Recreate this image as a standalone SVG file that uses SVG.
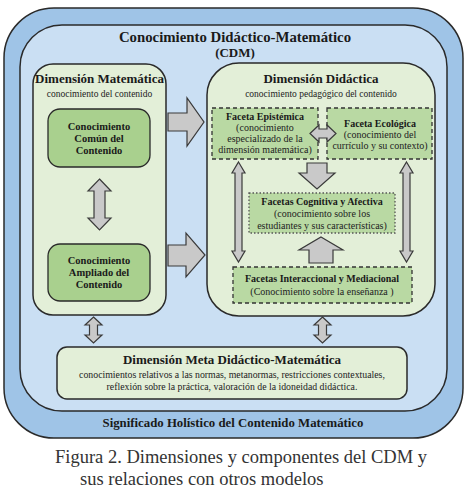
<svg xmlns="http://www.w3.org/2000/svg" width="474" height="503" viewBox="0 0 474 503">
<style>
.b{font-family:"Liberation Serif","DejaVu Serif",serif;font-weight:bold;fill:#1a1a1a;text-anchor:middle}
.r{font-family:"Liberation Serif","DejaVu Serif",serif;fill:#222;text-anchor:middle}
.cap{font-family:"Liberation Serif","DejaVu Serif",serif;fill:#333;font-size:18.5px}
.pale{fill:#e3efd8;stroke:#2a2a2a;stroke-width:1.5}
.mid{fill:#a9d08e;stroke:#2a2a2a;stroke-width:1.3}
.dash{fill:#b9d9a3;stroke:#333;stroke-width:1.3;stroke-dasharray:4 3}
.dot{fill:#b9d9a3;stroke:#555;stroke-width:1.3;stroke-dasharray:1.5 2}
.arr{fill:#c9c9c9;stroke:#3a3a3a;stroke-width:1.2;stroke-linejoin:miter}
</style>
<rect width="474" height="503" fill="#ffffff"/>
<g id="outer">
<rect x="4" y="8" width="459" height="430" rx="50" ry="50" fill="#9fc4e7" stroke="#2a2a2a" stroke-width="1.5"/>
<rect x="20" y="25" width="427" height="386" rx="42" ry="42" fill="#cadff3" stroke="#2a2a2a" stroke-width="1.5"/>
<text class="b" x="235" y="42" font-size="14.8">Conocimiento Didáctico-Matemático</text>
<text class="b" x="235" y="57" font-size="13">(CDM)</text>
<text class="b" x="233" y="427" font-size="12.8">Significado Holístico del Contenido Matemático</text>
</g>
<g id="dim-matematica">
<rect class="pale" x="33" y="64" width="133" height="251" rx="20" ry="20"/>
<text class="b" x="99.5" y="83" font-size="13">Dimensión Matemática</text>
<text class="r" x="99.5" y="97" font-size="9.5">conocimiento del contenido</text>
</g>
<g id="comun">
<rect class="mid" x="48" y="109" width="102" height="58" rx="12" ry="12"/>
<text class="b" x="99" y="130" font-size="10.5">Conocimiento</text>
<text class="b" x="99" y="142" font-size="10.5">Común del</text>
<text class="b" x="99" y="154" font-size="10.5">Contenido</text>
</g>
<g id="ampliado">
<rect class="mid" x="48" y="244" width="102" height="57" rx="12" ry="12"/>
<text class="b" x="99" y="264" font-size="10.5">Conocimiento</text>
<text class="b" x="99" y="276" font-size="10.5">Ampliado del</text>
<text class="b" x="99" y="288" font-size="10.5">Contenido</text>
</g>
<g id="dim-didactica">
<rect class="pale" x="207" y="63" width="228" height="253" rx="32" ry="32"/>
<text class="b" x="321" y="83" font-size="13">Dimensión Didáctica</text>
<text class="r" x="321" y="97" font-size="9.5">conocimiento pedagógico del contenido</text>
</g>
<g id="epistemica">
<rect class="dash" x="212" y="108" width="106" height="51"/>
<text class="b" x="265" y="120" font-size="10">Faceta Epistémica</text>
<text class="r" x="265" y="131" font-size="10">(conocimiento</text>
<text class="r" x="265" y="142" font-size="10">especializado de la</text>
<text class="r" x="265" y="153" font-size="10">dimensión matemática)</text>
</g>
<g id="ecologica">
<rect class="dash" x="327" y="108" width="105" height="51"/>
<text class="b" x="380" y="127" font-size="10">Faceta Ecológica</text>
<text class="r" x="380" y="138" font-size="10">(conocimiento del</text>
<text class="r" x="380" y="149" font-size="10">currículo y su contexto)</text>
</g>
<g id="cognitiva">
<rect class="dot" x="249" y="193" width="146" height="40"/>
<text class="b" x="322" y="205" font-size="10">Facetas Cognitiva y Afectiva</text>
<text class="r" x="322" y="217" font-size="10">(conocimiento sobre los</text>
<text class="r" x="322" y="229" font-size="10">estudiantes y sus características)</text>
</g>
<g id="interaccional">
<rect class="dash" x="233" y="267" width="179" height="36"/>
<text class="b" x="322" y="282" font-size="10">Facetas Interaccional y Mediacional</text>
<text class="r" x="322" y="295" font-size="10">(Conocimiento sobre la enseñanza )</text>
</g>
<g id="meta">
<rect class="pale" x="57" y="347" width="350" height="52" rx="10" ry="10"/>
<text class="b" x="232" y="364" font-size="13">Dimensión Meta Didáctico-Matemática</text>
<text class="r" x="232" y="378" font-size="9.8">conocimientos relativos a las normas, metanormas, restricciones contextuales,</text>
<text class="r" x="232" y="390" font-size="9.8">reflexión sobre la práctica, valoración de la idoneidad didáctica.</text>
</g>
<g id="connectors">
<path class="arr" d="M99.5,179 L111,191 L105,191 L105,218 L111,218 L99.5,230 L88,218 L94,218 L94,191 L88,191 Z"/>
<path class="arr" d="M168,113 L187,113 L187,98 L204,122 L187,146 L187,131 L168,131 Z"/>
<path class="arr" d="M168,245 L186,245 L186,233 L205,255 L186,277 L186,266 L168,266 Z"/>
<path class="arr" d="M310,133.5 L319,125 L319,129 L327,129 L327,125 L336,133.5 L327,142 L327,138 L319,138 L319,142 Z"/>
<path class="arr" d="M307,163 L327,163 L327,173 L335,173 L317,189 L299,173 L307,173 Z"/>
<path class="arr" d="M321,237 L343,250 L333,250 L333,263 L309,263 L309,250 L299,250 Z"/>
<path class="arr" d="M238.5,162 L245,173 L242,173 L242,251 L245,251 L238.5,262 L232,251 L235,251 L235,173 L232,173 Z"/>
<path class="arr" d="M406.5,162 L413,173 L410,173 L410,251 L413,251 L406.5,262 L400,251 L403,251 L403,173 L400,173 Z"/>
<path class="arr" d="M93.5,317 L102,325 L97.5,325 L97.5,335 L102,335 L93.5,343 L85,335 L89.5,335 L89.5,325 L85,325 Z"/>
<path class="arr" d="M322.5,317 L331,325 L326.5,325 L326.5,335 L331,335 L322.5,343 L314,335 L318.5,335 L318.5,325 L314,325 Z"/>
</g>
<g id="caption">
<text class="cap" x="55" y="463">Figura 2. Dimensiones y componentes del CDM y</text>
<text class="cap" x="80" y="485">sus relaciones con otros modelos</text>
</g>
</svg>
